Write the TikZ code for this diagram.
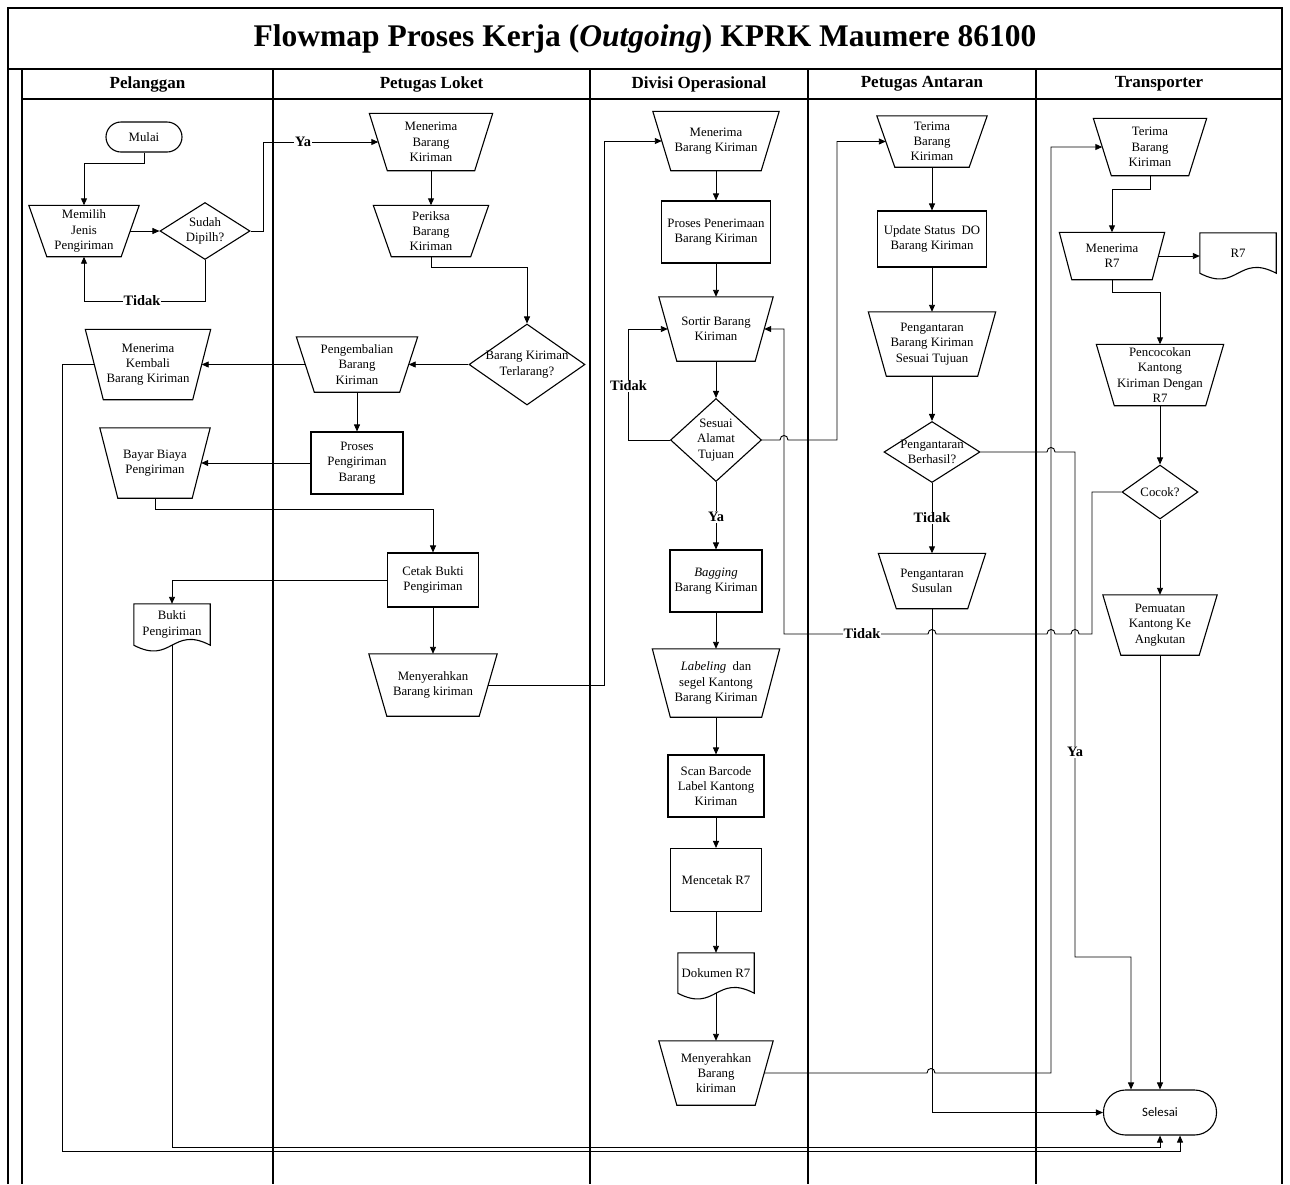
\documentclass[tikz,border=0pt]{standalone}
\usepackage{fontspec}
\setmainfont{Liberation Serif}
\newfontfamily\endfont{Carlito}
\usetikzlibrary{arrows.meta,shapes.geometric}

\tikzset{
  frame/.style={line width=2pt},
  headline/.style={line width=1.5pt},
  txt/.style={font=\fontsize{12.8}{15.3}\selectfont, align=center, inner sep=0pt},
  shapeline/.style={line width=1.1pt, line join=miter},
  mopbox/.style={txt},
  proc/.style={txt, draw, shapeline},
  docbox/.style={txt},
  decision/.style={diamond, draw, shapeline, inner sep=0pt},
  terminal/.style={txt, draw, shapeline},
  flow/.style={line width=0.9pt, -{Triangle[length=7pt,width=6pt]}},
  lbl/.style={font=\fontsize{14.4}{16}\selectfont\bfseries, fill=white, inner sep=1pt},
  lane/.style={font=\fontsize{17}{19}\selectfont\bfseries, inner sep=0pt},
  titletext/.style={font=\fontsize{31.5}{34}\selectfont\bfseries, inner sep=0pt},
}

% manual operation: optional half inset, name, x, y, mid width, height, text
\newcommand\mop[7][9]{%
  \node[mopbox, minimum width=#5pt, minimum height=#6pt] (#2) at (#3,#4) {#7};
  \draw[shapeline] ([xshift=-#1pt]#2.north west) -- ([xshift=#1pt]#2.north east)
    -- ([xshift=-#1pt]#2.south east) -- ([xshift=#1pt]#2.south west) -- cycle;}

% document with a wavy lower edge: name, x, y, width, height, text
\newcommand\docnode[6]{%
  \node[docbox, minimum width=#4pt, minimum height=#5pt] (#1) at (#2,#3) {#6};
  \draw[shapeline] (#1.north west) -- (#1.north east) -- (#1.south east)
    .. controls +(-38,-20) and +(38,20) .. (#1.south west) -- cycle;}

\begin{document}
\begin{tikzpicture}[x=1pt,y=-1pt]
\useasboundingbox (0,0) rectangle (1290,1184);

% ---------- frame, title and swimlanes ----------
\draw[frame] (8,1184) -- (8,8) -- (1282,8) -- (1282,1184);
\draw[frame] (8,69) -- (1282,69);
\draw[frame] (22,69) -- (22,1184);
\draw[headline] (22,99) -- (1282,99);
\foreach \lx in {273,590,808,1036}
  \draw[frame] (\lx,69) -- (\lx,1184);

\node[titletext] (title) at (645,39) {Flowmap Proses Kerja (\textit{Outgoing}) KPRK Maumere 86100};
\node[lane] (hdr1) at (147.5,84) {Pelanggan};
\node[lane] (hdr2) at (431.5,84) {Petugas Loket};
\node[lane] (hdr3) at (699,84) {Divisi Operasional};
\node[lane] (hdr4) at (922,84) {Petugas Antaran};
\node[lane] (hdr5) at (1159,84) {Transporter};

% ---------- Pelanggan ----------
\node[terminal, minimum width=76pt, minimum height=30pt, rounded corners=15pt] (mulai) at (144,137) {Mulai};
\mop{memilih}{84}{231}{92}{51}{Memilih\\Jenis\\Pengiriman}
\node[decision, minimum width=90pt, minimum height=57pt,
      label={[txt]center:{Sudah\\Dipilh?}}] (sudah) at (205,231) {};
\mop{mkembali}{148}{364.5}{107}{70}{Menerima\\Kembali\\Barang Kiriman}
\mop{bayar}{155}{463}{92}{70}{Bayar Biaya\\Pengiriman}
\docnode{bukti}{172}{624.5}{76}{41}{Bukti\\Pengiriman}

% ---------- Petugas Loket ----------
\mop{lmenerima}{431}{142}{105}{57}{Menerima\\Barang\\Kiriman}
\mop{periksa}{431}{231}{97}{51}{Periksa\\Barang\\Kiriman}
\node[decision, minimum width=116pt, minimum height=81pt,
      label={[txt]center:{Barang Kiriman\\Terlarang?}}] (terlarang) at (527,364.5) {};
\mop{kembali}{357}{364.5}{103}{55}{Pengembalian\\Barang\\Kiriman}
\node[proc, minimum width=92pt, minimum height=62pt] (proses) at (357,463) {Proses\\Pengiriman\\Barang};
\node[proc, minimum width=91pt, minimum height=54pt] (cetak) at (433,580) {Cetak Bukti\\Pengiriman};
\mop{lserah}{433}{685}{110}{62}{Menyerahkan\\Barang kiriman}

% ---------- Divisi Operasional ----------
\mop{dmenerima}{716}{141}{108}{59}{Menerima\\Barang Kiriman}
\node[proc, minimum width=109pt, minimum height=62pt] (penerimaan) at (716,232) {Proses Penerimaan\\Barang Kiriman};
\mop{sortir}{716}{329}{96}{64}{Sortir Barang\\Kiriman}
\node[decision, minimum width=91pt, minimum height=83pt,
      label={[txt]center:{Sesuai\\Alamat\\Tujuan}}] (sesuai) at (716,440) {};
\node[proc, minimum width=92pt, minimum height=62pt] (bagging) at (716,581) {\textit{Bagging}\\Barang Kiriman};
\mop{labeling}{716}{683}{109}{68}{\textit{Labeling}~ dan\\segel Kantong\\Barang Kiriman}
\node[proc, minimum width=96pt, minimum height=62pt] (scan) at (716,786) {Scan Barcode\\Label Kantong\\Kiriman};
\node[proc, minimum width=91pt, minimum height=63pt] (mencetak) at (716,880) {Mencetak R7};
\docnode{dokr7}{716}{973}{76}{40}{Dokumen R7}
\mop{dserah}{716}{1073}{96}{64}{Menyerahkan\\Barang\\kiriman}

% ---------- Petugas Antaran ----------
\mop{aterima}{932}{141.5}{92}{51}{Terima\\Barang\\Kiriman}
\node[proc, minimum width=109pt, minimum height=56pt] (update) at (932,239) {Update Status~ DO\\Barang Kiriman};
\mop{antar}{932}{344}{109}{64}{Pengantaran\\Barang Kiriman\\Sesuai Tujuan}
\node[decision, minimum width=96pt, minimum height=61pt,
      label={[txt]center:{Pengantaran\\Berhasil?}}] (berhasil) at (932,452) {};
\mop{susulan}{932}{581}{89}{55}{Pengantaran\\Susulan}

% ---------- Transporter ----------
\mop{tterima}{1150}{147}{95}{57}{Terima\\Barang\\Kiriman}
\mop[6.25]{terimar7}{1112}{256}{92.5}{47}{Menerima\\R7}
\docnode{r7}{1238}{253}{76}{40}{R7}
\mop{cocokkan}{1160}{375}{109}{61}{Pencocokan\\Kantong\\Kiriman Dengan\\R7}
\node[decision, minimum width=76pt, minimum height=54pt,
      label={[txt]center:{Cocok?}}] (cocok) at (1160,492) {};
\mop{muat}{1160}{625}{96}{60}{Pemuatan\\Kantong Ke\\Angkutan}
\node[terminal, minimum width=113pt, minimum height=45pt, rounded corners=22pt,
      font=\endfont\fontsize{12.8}{15}\selectfont] (selesai) at (1160,1112.5) {Selesai};

% ---------- connectors ----------
\draw[flow] (mulai.south) -- ++(0,11) -| (memilih.north);
\draw[flow] (memilih.east) -- (sudah.west);
\draw[flow] (sudah.east) -- ++(13,0) |- (lmenerima.west);
\draw[flow] (sudah.south) -- ++(0,41) -| (memilih.south);
\draw[flow] (lmenerima.south) -- (periksa.north);
\draw[flow] (periksa.south) -- ++(0,11) -| (terlarang.north);
\draw[flow] (terlarang.west) -- (kembali.east);
\draw[flow] (kembali.west) -- (mkembali.east);
\draw[flow] (kembali.south) -- (proses.north);
\draw[flow] (proses.west) -- (bayar.east);
\draw[flow] (bayar.south) -- ++(0,11) -| (cetak.north);
\draw[flow] (cetak.west) -| (bukti.north);
\draw[flow] (cetak.south) -- (lserah.north);
\draw[flow] (lserah.east) -- ++(116,0) |- (dmenerima.west);

\draw[flow] (dmenerima.south) -- (penerimaan.north);
\draw[flow] (penerimaan.south) -- (sortir.north);
\draw[flow] (sortir.south) -- (sesuai.north);
\draw[flow] (sesuai.west) -- ++(-42,0) |- (sortir.west);
\draw[flow] (sesuai.east) -- (780,440) .. controls (780,434) and (788,434) .. (788,440)
  -- (837,440) |- (aterima.west);
\draw[flow] (sesuai.south) -- (bagging.north);
\draw[flow] (bagging.south) -- (labeling.north);
\draw[flow] (labeling.south) -- (scan.north);
\draw[flow] (scan.south) -- (mencetak.north);
\draw[flow] (mencetak.south) -- (dokr7.north);
\draw[flow] (dokr7.south) -- (dserah.north);
\draw[flow] (dserah.east) -- (927,1073) .. controls (927,1067) and (935,1067) .. (935,1073)
  -- (1051,1073) |- (tterima.west);

\draw[flow] (aterima.south) -- (update.north);
\draw[flow] (update.south) -- (antar.north);
\draw[flow] (antar.south) -- (berhasil.north);
\draw[flow] (berhasil.south) -- (susulan.north);
\draw[flow] (berhasil.east) -- (1047,452) .. controls (1047,446) and (1055,446) .. (1055,452)
  -- (1075,452) -- (1075,957) -| ([xshift=-29pt]selesai.north);
\draw[flow] (susulan.south) |- (selesai.west);

\draw[flow] (tterima.south) -- ++(0,13.5) -| (terimar7.north);
\draw[flow] (terimar7.east) -- (terimar7.east -| r7.west);
\draw[flow] (terimar7.south) -- ++(0,12.5) -| (cocokkan.north);
\draw[flow] (cocokkan.south) -- (cocok.north);
\draw[flow] (cocok.south) -- (muat.north);
\draw[flow] (muat.south) -- (selesai.north);
\draw[flow] (cocok.west) -- (1092,492) -- (1092,634)
  -- (1079,634) .. controls (1079,628) and (1071,628) .. (1071,634)
  -- (1055,634) .. controls (1055,628) and (1047,628) .. (1047,634)
  -- (936,634) .. controls (936,628) and (928,628) .. (928,634)
  -- (784,634) |- (sortir.east);

\draw[flow] (mkembali.west) -- (62,364.5) -- (62,1151) -| ([xshift=20pt]selesai.south);
\draw[flow] (bukti.south) -- (172,1147) -| (selesai.south);

% ---------- branch labels ----------
\node[lbl] (ya1) at (303,142) {Ya};
\node[lbl] (tidak1) at (142,300.5) {Tidak};
\node[lbl] (tidak2) at (628.5,386) {Tidak};
\node[lbl] (ya2) at (716,517) {Ya};
\node[lbl] (tidak3) at (932,518) {Tidak};
\node[lbl] (tidak4) at (862,634) {Tidak};
\node[lbl] (ya3) at (1075,752) {Ya};
\end{tikzpicture}
\end{document}
